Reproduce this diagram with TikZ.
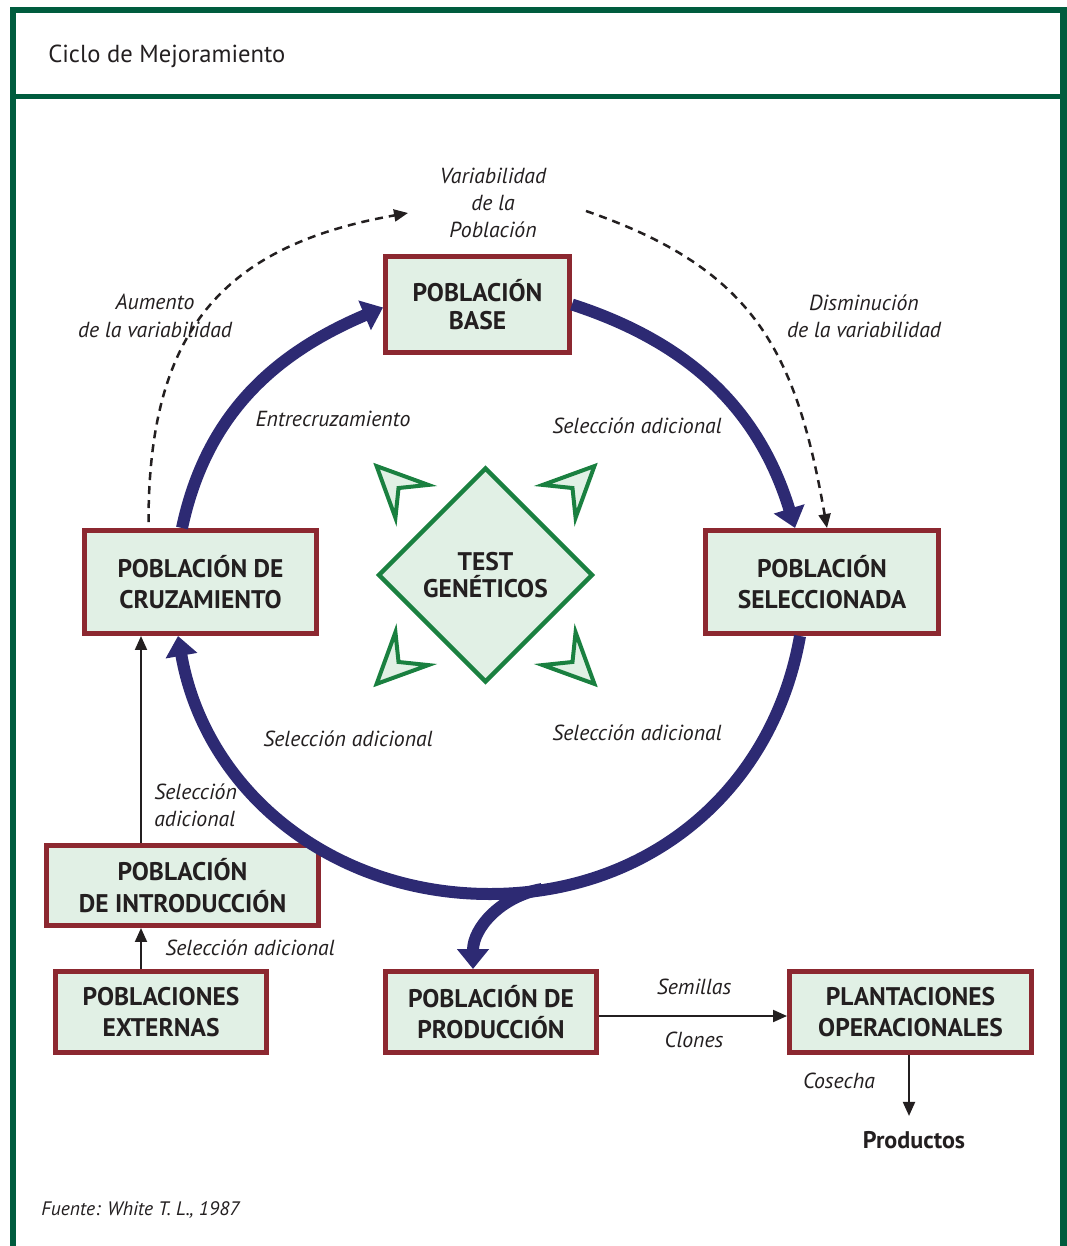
\documentclass[tikz,border=0pt]{standalone}
\usepackage{fontspec}
\setmainfont{PT Sans}
\usetikzlibrary{positioning,calc,shapes.geometric,arrows.meta}
\definecolor{marco}{RGB}{0,92,62}
\definecolor{borde}{RGB}{140,40,48}
\definecolor{relleno}{RGB}{225,240,229}
\definecolor{azul}{RGB}{45,42,115}
\definecolor{verde}{RGB}{26,128,64}
\definecolor{texto}{RGB}{35,31,32}

\begin{document}
\begin{tikzpicture}[x=0.02cm,y=0.02cm,
  pob/.style={draw=borde,fill=relleno,line width=0.1cm,align=center,inner sep=0pt,text=texto,
    font=\fontsize{14.5}{18}\selectfont\bfseries},
  lab/.style={align=center,text=texto,inner sep=0pt,font=\fontsize{12.4}{15.5}\selectfont\itshape},
  ciclo/.style={draw=azul,line width=0.24cm,-{Triangle[length=0.4cm,width=0.62cm]}},
  flecha/.style={draw=texto,line width=0.04cm,-{Triangle[length=0.28cm,width=0.24cm]}},
  puntos/.style={flecha,line width=0.05cm,dash pattern=on 0.16cm off 0.12cm},
  dardo/.style={draw=verde,fill=relleno,line width=0.08cm,line join=miter}]
\useasboundingbox (0,0) rectangle (1066,-1246);
% marco
\draw[marco,line width=0.13cm] (13,-1260) |- (1063.5,-10) -- (1063.5,-1260);
\draw[marco,line width=0.1cm] (13,-96.5) -- (1063.5,-96.5);
\node[anchor=west,inner sep=0pt,text=texto,font=\fontsize{14}{16}\selectfont] (titulo) at (48,-56) {Ciclo de Mejoramiento};
% poblaciones
\node[pob,minimum width=3.68cm,minimum height=1.92cm,font=\fontsize{14.5}{15.5}\selectfont\bfseries] (base) at (477.5,-304.5) {POBLACIÓN\\BASE};
\node[pob,minimum width=4.66cm,minimum height=2.06cm] (sel) at (822,-582) {POBLACIÓN\\SELECCIONADA};
\node[pob,minimum width=4.64cm,minimum height=2.06cm] (cru) at (200.5,-582) {POBLACIÓN DE\\CRUZAMIENTO};
\node[pob,minimum width=5.44cm,minimum height=1.6cm] (intro) at (182.5,-885.5) {POBLACIÓN\\DE INTRODUCCIÓN};
\node[pob,minimum width=4.22cm,minimum height=1.62cm] (ext) at (161,-1012) {POBLACIONES\\EXTERNAS};
\node[pob,minimum width=4.22cm,minimum height=1.62cm] (prod) at (491,-1012) {POBLACIÓN DE\\PRODUCCIÓN};
\node[pob,minimum width=4.84cm,minimum height=1.62cm] (plant) at (910.5,-1012) {PLANTACIONES\\OPERACIONALES};
\node[diamond,draw=verde,fill=relleno,line width=0.09cm,minimum width=4.3cm,minimum height=4.3cm,inner sep=0pt,
  align=center,text=texto,font=\fontsize{14.5}{15.5}\selectfont\bfseries] (test) at (485.5,-575) {TEST\\GENÉTICOS};
\foreach \a in {45,135,225,315}
  \filldraw[dardo] ($(test)+(\a:154)$) -- +(\a+155:55) -- +(\a+180:31) -- +(\a+205:55) -- cycle;
% ciclo
\coordinate (bot) at (490,-894);
\coordinate (brk) at (542,-889);
\draw[ciclo] (base.east) to[out=-18,in=107] ([xshift=-0.54cm]sel.north);
\draw[ciclo] ([xshift=-0.44cm]sel.south) to[out=-100,in=0] (bot) to[out=180,in=-80] ([xshift=-0.45cm]cru.south);
\draw[ciclo] ([xshift=-0.37cm]cru.north) to[out=78,in=-157] ([yshift=-0.06cm]base.west);
\draw[ciclo] (brk) to[out=-170,in=90] ([xshift=-0.36cm]prod.north);
% variabilidad
\node[lab] (var) at (493,-203) {Variabilidad\\de la\\Población};
\draw[puntos] ([xshift=-1.04cm,yshift=0.12cm]cru.north) to[out=90,in=190,looseness=1.2] ([xshift=-1.7cm,yshift=-0.2cm]var.center);
\draw[puntos] ([xshift=1.86cm,yshift=-0.16cm]var.center) to[out=-19,in=100,looseness=1.15] ([xshift=0.1cm]sel.north);
\node[lab] (aum) at (155,-316) {Aumento\\de la variabilidad};
\node[lab] (dis) at (864,-316) {Disminución\\de la variabilidad};
\node[lab] (ent) at (333,-419) {Entrecruzamiento};
\node[lab] (sa1) at (637,-426) {Selección adicional};
\node[lab] (sa2) at (348,-739) {Selección adicional};
\node[lab] (sa3) at (637,-733) {Selección adicional};
% entradas y salidas
\coordinate (e1) at ($(ext.north)+(-20,0)$);
\draw[flecha] (e1) -- (e1 |- intro.south);
\draw[flecha] (e1 |- intro.north) -- (e1 |- cru.south);
\node[lab,align=left,anchor=west] (sa4) at (154,-805) {Selección\\adicional};
\node[lab] (sa5) at (250,-948) {Selección adicional};
\draw[flecha] ([yshift=-0.08cm]prod.east) -- ([yshift=-0.08cm]plant.west);
\node[lab] (sem) at (694,-987) {Semillas};
\node[lab] (clo) at (694,-1040) {Clones};
\node[inner sep=0pt,text=texto,font=\fontsize{13.7}{15}\selectfont\bfseries] (prodt) at (914,-1140) {Productos};
\draw[flecha,shorten >=0.3cm] ([xshift=-0.03cm]plant.south) -- ([xshift=-0.03cm]plant.south |- prodt.north);
\node[lab] (cos) at (839,-1081) {Cosecha};
\node[lab,anchor=west,font=\fontsize{11.1}{12}\selectfont\itshape] (fue) at (41,-1210) {Fuente: White T. L., 1987};
\end{tikzpicture}
\end{document}
